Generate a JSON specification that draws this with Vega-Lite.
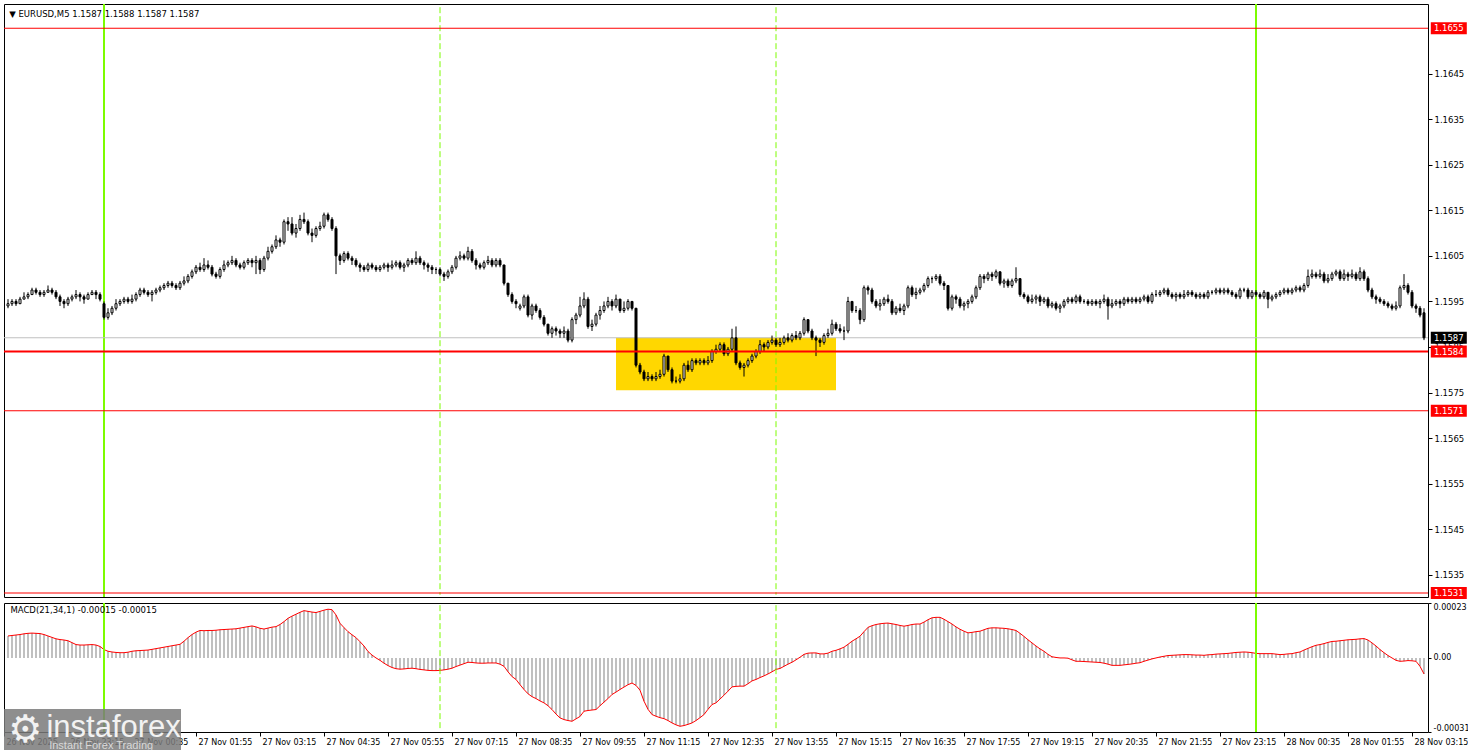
{
"$schema":"https://vega.github.io/schema/vega-lite/v6.json",
"padding":{"left":3,"top":3,"right":0,"bottom":0},
"background":"#ffffff",
"spacing":2,
"config":{"view":{"stroke":"#000000","strokeWidth":1},"font":"DejaVu Sans","axis":{"title":null,"grid":false,"domain":false,"labelFont":"DejaVu Sans","labelFontSize":8,"labelColor":"#000000","tickColor":"#000000","tickSize":4,"labelPadding":2}},
"datasets":{
"vs":[{"i":24},{"i":312}],
"vd":[{"i":108},{"i":192}],
"rl":[{"p":1.1655},{"p":1.1584},{"p":1.1571},{"p":1.1531}],
"k":[
{"i":0,"o":1.1594,"h":1.15955,"l":1.15935,"c":1.15945,"d":0.000092},
{"i":1,"o":1.15945,"h":1.15955,"l":1.1594,"c":1.1595,"d":0.000094},
{"i":2,"o":1.1595,"h":1.15955,"l":1.1594,"c":1.15945,"d":0.000096},
{"i":3,"o":1.15945,"h":1.1596,"l":1.15945,"c":1.15955,"d":0.000098},
{"i":4,"o":1.15955,"h":1.1597,"l":1.15955,"c":1.1596,"d":0.000101},
{"i":5,"o":1.1596,"h":1.1597,"l":1.15955,"c":1.15965,"d":0.000103},
{"i":6,"o":1.15965,"h":1.1598,"l":1.15965,"c":1.15975,"d":0.000104},
{"i":7,"o":1.15975,"h":1.1598,"l":1.15965,"c":1.1597,"d":0.000103},
{"i":8,"o":1.1597,"h":1.15975,"l":1.1596,"c":1.15965,"d":0.000102},
{"i":9,"o":1.15965,"h":1.15975,"l":1.1596,"c":1.1597,"d":0.000098},
{"i":10,"o":1.1597,"h":1.15985,"l":1.1597,"c":1.15975,"d":0.000092},
{"i":11,"o":1.15975,"h":1.1598,"l":1.15965,"c":1.1597,"d":0.000086},
{"i":12,"o":1.1597,"h":1.15975,"l":1.15955,"c":1.1596,"d":0.00008},
{"i":13,"o":1.1596,"h":1.15965,"l":1.1594,"c":1.1595,"d":0.000077},
{"i":14,"o":1.1595,"h":1.15955,"l":1.15935,"c":1.15945,"d":0.000075},
{"i":15,"o":1.15945,"h":1.1596,"l":1.1594,"c":1.15955,"d":0.000072},
{"i":16,"o":1.15955,"h":1.15965,"l":1.1595,"c":1.1596,"d":0.000064},
{"i":17,"o":1.1596,"h":1.15975,"l":1.15955,"c":1.15965,"d":0.000056},
{"i":18,"o":1.15965,"h":1.1597,"l":1.1595,"c":1.1596,"d":0.000054},
{"i":19,"o":1.1596,"h":1.15965,"l":1.15945,"c":1.15955,"d":0.000054},
{"i":20,"o":1.15955,"h":1.1597,"l":1.15955,"c":1.15965,"d":0.000055},
{"i":21,"o":1.15965,"h":1.15975,"l":1.15965,"c":1.1597,"d":0.000056},
{"i":22,"o":1.1597,"h":1.15975,"l":1.15955,"c":1.15965,"d":0.000054},
{"i":23,"o":1.15965,"h":1.1597,"l":1.1595,"c":1.15955,"d":0.000048},
{"i":24,"o":1.15945,"h":1.1595,"l":1.1591,"c":1.15915,"d":0.000035},
{"i":25,"o":1.15915,"h":1.15935,"l":1.1591,"c":1.15925,"d":0.000028},
{"i":26,"o":1.15925,"h":1.1594,"l":1.1592,"c":1.15935,"d":0.000025},
{"i":27,"o":1.15935,"h":1.15955,"l":1.1593,"c":1.15945,"d":0.000023},
{"i":28,"o":1.15945,"h":1.15955,"l":1.1594,"c":1.1595,"d":0.000022},
{"i":29,"o":1.1595,"h":1.1596,"l":1.15945,"c":1.15955,"d":0.000022},
{"i":30,"o":1.15955,"h":1.1596,"l":1.15945,"c":1.1595,"d":0.000024},
{"i":31,"o":1.1595,"h":1.15965,"l":1.15945,"c":1.15955,"d":0.000028},
{"i":32,"o":1.15955,"h":1.1597,"l":1.1595,"c":1.15965,"d":0.00003},
{"i":33,"o":1.15965,"h":1.1598,"l":1.1596,"c":1.15975,"d":0.000031},
{"i":34,"o":1.15975,"h":1.1598,"l":1.15965,"c":1.1597,"d":0.000032},
{"i":35,"o":1.1597,"h":1.15975,"l":1.1596,"c":1.15965,"d":0.000033},
{"i":36,"o":1.15965,"h":1.15975,"l":1.1595,"c":1.1597,"d":0.000036},
{"i":37,"o":1.1597,"h":1.1598,"l":1.15965,"c":1.15975,"d":0.000039},
{"i":38,"o":1.15975,"h":1.15985,"l":1.1597,"c":1.1598,"d":0.000042},
{"i":39,"o":1.1598,"h":1.1599,"l":1.15975,"c":1.15985,"d":0.000045},
{"i":40,"o":1.15985,"h":1.15995,"l":1.1598,"c":1.1599,"d":0.000048},
{"i":41,"o":1.1599,"h":1.15995,"l":1.1598,"c":1.15985,"d":0.000051},
{"i":42,"o":1.15985,"h":1.1599,"l":1.15975,"c":1.1598,"d":0.000054},
{"i":43,"o":1.1598,"h":1.15995,"l":1.15975,"c":1.1599,"d":0.000057},
{"i":44,"o":1.1599,"h":1.16005,"l":1.15985,"c":1.15995,"d":0.00007},
{"i":45,"o":1.15995,"h":1.1601,"l":1.1599,"c":1.16005,"d":0.000085},
{"i":46,"o":1.16005,"h":1.1602,"l":1.16,"c":1.16015,"d":0.000098},
{"i":47,"o":1.16015,"h":1.1603,"l":1.1601,"c":1.16025,"d":0.000108},
{"i":48,"o":1.16025,"h":1.16035,"l":1.16015,"c":1.1602,"d":0.000115},
{"i":49,"o":1.1602,"h":1.16045,"l":1.16015,"c":1.1603,"d":0.000114},
{"i":50,"o":1.1603,"h":1.1604,"l":1.1602,"c":1.16025,"d":0.000115},
{"i":51,"o":1.16025,"h":1.1603,"l":1.16005,"c":1.1601,"d":0.000115},
{"i":52,"o":1.1601,"h":1.16015,"l":1.16,"c":1.16005,"d":0.000116},
{"i":53,"o":1.16005,"h":1.16025,"l":1.16,"c":1.1602,"d":0.000118},
{"i":54,"o":1.1602,"h":1.1604,"l":1.16015,"c":1.1603,"d":0.000119},
{"i":55,"o":1.1603,"h":1.1604,"l":1.16025,"c":1.16035,"d":0.00012},
{"i":56,"o":1.16035,"h":1.1605,"l":1.1603,"c":1.1604,"d":0.000121},
{"i":57,"o":1.1604,"h":1.16045,"l":1.16025,"c":1.1603,"d":0.000122},
{"i":58,"o":1.1603,"h":1.16035,"l":1.1602,"c":1.16025,"d":0.000125},
{"i":59,"o":1.16025,"h":1.1604,"l":1.1602,"c":1.16035,"d":0.000128},
{"i":60,"o":1.16035,"h":1.16045,"l":1.1603,"c":1.1604,"d":0.000131},
{"i":61,"o":1.1604,"h":1.16045,"l":1.16025,"c":1.16035,"d":0.000134},
{"i":62,"o":1.16035,"h":1.1605,"l":1.1601,"c":1.1604,"d":0.00013},
{"i":63,"o":1.1604,"h":1.16045,"l":1.1601,"c":1.1602,"d":0.000124},
{"i":64,"o":1.1602,"h":1.1605,"l":1.16015,"c":1.16045,"d":0.000121},
{"i":65,"o":1.16045,"h":1.1607,"l":1.1604,"c":1.1606,"d":0.000125},
{"i":66,"o":1.1606,"h":1.16075,"l":1.16055,"c":1.1607,"d":0.000129},
{"i":67,"o":1.1607,"h":1.16095,"l":1.16065,"c":1.16085,"d":0.000131},
{"i":68,"o":1.16085,"h":1.1609,"l":1.1607,"c":1.1608,"d":0.00014},
{"i":69,"o":1.1608,"h":1.1613,"l":1.16075,"c":1.16125,"d":0.000152},
{"i":70,"o":1.16125,"h":1.16135,"l":1.16105,"c":1.1612,"d":0.000166},
{"i":71,"o":1.1612,"h":1.16135,"l":1.16095,"c":1.161,"d":0.000175},
{"i":72,"o":1.161,"h":1.1612,"l":1.1609,"c":1.1611,"d":0.000183},
{"i":73,"o":1.1611,"h":1.1614,"l":1.16105,"c":1.1613,"d":0.000191},
{"i":74,"o":1.1613,"h":1.16145,"l":1.1612,"c":1.16125,"d":0.000198},
{"i":75,"o":1.16125,"h":1.1613,"l":1.16095,"c":1.161,"d":0.000195},
{"i":76,"o":1.161,"h":1.1611,"l":1.1608,"c":1.16095,"d":0.000192},
{"i":77,"o":1.16095,"h":1.16115,"l":1.1609,"c":1.1611,"d":0.00019},
{"i":78,"o":1.1611,"h":1.16125,"l":1.16105,"c":1.16115,"d":0.000195},
{"i":79,"o":1.16115,"h":1.16145,"l":1.1611,"c":1.1614,"d":0.0002},
{"i":80,"o":1.1614,"h":1.16145,"l":1.16125,"c":1.1613,"d":0.000204},
{"i":81,"o":1.1613,"h":1.16135,"l":1.16105,"c":1.1611,"d":0.000202},
{"i":82,"o":1.1611,"h":1.16115,"l":1.1601,"c":1.1605,"d":0.00018},
{"i":83,"o":1.1605,"h":1.16055,"l":1.1603,"c":1.1604,"d":0.000145},
{"i":84,"o":1.1604,"h":1.1606,"l":1.16035,"c":1.16055,"d":0.000127},
{"i":85,"o":1.16055,"h":1.1606,"l":1.1604,"c":1.16045,"d":0.00011},
{"i":86,"o":1.16045,"h":1.1605,"l":1.1603,"c":1.1604,"d":0.000097},
{"i":87,"o":1.1604,"h":1.16045,"l":1.16025,"c":1.1603,"d":0.000085},
{"i":88,"o":1.1603,"h":1.16035,"l":1.16015,"c":1.16025,"d":0.000068},
{"i":89,"o":1.16025,"h":1.1603,"l":1.16015,"c":1.1602,"d":0.00005},
{"i":90,"o":1.1602,"h":1.16035,"l":1.16015,"c":1.1603,"d":0.000027},
{"i":91,"o":1.1603,"h":1.16035,"l":1.1602,"c":1.16025,"d":0.000012},
{"i":92,"o":1.16025,"h":1.1603,"l":1.16015,"c":1.1602,"d":0},
{"i":93,"o":1.1602,"h":1.1603,"l":1.16015,"c":1.16025,"d":-0.00001},
{"i":94,"o":1.16025,"h":1.16035,"l":1.1602,"c":1.1603,"d":-0.000022},
{"i":95,"o":1.1603,"h":1.16035,"l":1.16015,"c":1.16025,"d":-0.000032},
{"i":96,"o":1.16025,"h":1.1604,"l":1.1602,"c":1.1603,"d":-0.00004},
{"i":97,"o":1.1603,"h":1.1604,"l":1.16025,"c":1.16035,"d":-0.000045},
{"i":98,"o":1.16035,"h":1.1604,"l":1.1602,"c":1.16025,"d":-0.000047},
{"i":99,"o":1.16025,"h":1.16035,"l":1.16015,"c":1.1603,"d":-0.000046},
{"i":100,"o":1.1603,"h":1.16045,"l":1.16025,"c":1.1604,"d":-0.000044},
{"i":101,"o":1.1604,"h":1.16045,"l":1.1603,"c":1.16035,"d":-0.000043},
{"i":102,"o":1.16035,"h":1.1606,"l":1.1603,"c":1.16045,"d":-0.000045},
{"i":103,"o":1.16045,"h":1.1605,"l":1.1603,"c":1.16035,"d":-0.000048},
{"i":104,"o":1.16035,"h":1.1604,"l":1.1602,"c":1.1603,"d":-0.00005},
{"i":105,"o":1.1603,"h":1.16035,"l":1.16015,"c":1.16025,"d":-0.000052},
{"i":106,"o":1.16025,"h":1.1603,"l":1.1601,"c":1.1602,"d":-0.000053},
{"i":107,"o":1.1602,"h":1.16025,"l":1.1601,"c":1.1602,"d":-0.000053},
{"i":108,"o":1.1602,"h":1.16025,"l":1.16005,"c":1.1601,"d":-0.000052},
{"i":109,"o":1.1601,"h":1.16015,"l":1.15995,"c":1.16005,"d":-0.00005},
{"i":110,"o":1.16005,"h":1.1602,"l":1.16,"c":1.16015,"d":-0.000047},
{"i":111,"o":1.16015,"h":1.1603,"l":1.1601,"c":1.16025,"d":-0.000043},
{"i":112,"o":1.16025,"h":1.1605,"l":1.1602,"c":1.16045,"d":-0.000036},
{"i":113,"o":1.16045,"h":1.1606,"l":1.1604,"c":1.1605,"d":-0.00003},
{"i":114,"o":1.1605,"h":1.16055,"l":1.1604,"c":1.16045,"d":-0.000024},
{"i":115,"o":1.16045,"h":1.1607,"l":1.1604,"c":1.1606,"d":-0.000018},
{"i":116,"o":1.1606,"h":1.16065,"l":1.16035,"c":1.1604,"d":-0.000019},
{"i":117,"o":1.1604,"h":1.16045,"l":1.1602,"c":1.1603,"d":-0.000021},
{"i":118,"o":1.1603,"h":1.16035,"l":1.1602,"c":1.16025,"d":-0.000022},
{"i":119,"o":1.16025,"h":1.1604,"l":1.1602,"c":1.16035,"d":-0.000022},
{"i":120,"o":1.16035,"h":1.1605,"l":1.1603,"c":1.1604,"d":-0.000021},
{"i":121,"o":1.1604,"h":1.16045,"l":1.16025,"c":1.1603,"d":-0.000021},
{"i":122,"o":1.1603,"h":1.16045,"l":1.16025,"c":1.1604,"d":-0.000021},
{"i":123,"o":1.1604,"h":1.16045,"l":1.16025,"c":1.1603,"d":-0.000026},
{"i":124,"o":1.1603,"h":1.1603,"l":1.15985,"c":1.1599,"d":-0.000035},
{"i":125,"o":1.1599,"h":1.1599,"l":1.1596,"c":1.15965,"d":-0.000058},
{"i":126,"o":1.15965,"h":1.1597,"l":1.15945,"c":1.1595,"d":-0.000078},
{"i":127,"o":1.1595,"h":1.15955,"l":1.15935,"c":1.15945,"d":-0.00009},
{"i":128,"o":1.15935,"h":1.15945,"l":1.1593,"c":1.1594,"d":-0.000112},
{"i":129,"o":1.1594,"h":1.15965,"l":1.15935,"c":1.1596,"d":-0.000132},
{"i":130,"o":1.1596,"h":1.15965,"l":1.15915,"c":1.1592,"d":-0.00015},
{"i":131,"o":1.1592,"h":1.15945,"l":1.1591,"c":1.1594,"d":-0.000162},
{"i":132,"o":1.1594,"h":1.15945,"l":1.15925,"c":1.1593,"d":-0.00017},
{"i":133,"o":1.1593,"h":1.15935,"l":1.1591,"c":1.15915,"d":-0.00018},
{"i":134,"o":1.15915,"h":1.1592,"l":1.15895,"c":1.159,"d":-0.000188},
{"i":135,"o":1.159,"h":1.159,"l":1.15875,"c":1.1588,"d":-0.0002},
{"i":136,"o":1.1588,"h":1.15895,"l":1.1587,"c":1.1589,"d":-0.000216},
{"i":137,"o":1.1589,"h":1.15895,"l":1.15875,"c":1.15885,"d":-0.000235},
{"i":138,"o":1.15885,"h":1.1589,"l":1.1587,"c":1.1588,"d":-0.000251},
{"i":139,"o":1.1588,"h":1.15895,"l":1.1587,"c":1.15885,"d":-0.000258},
{"i":140,"o":1.15885,"h":1.1589,"l":1.1586,"c":1.15865,"d":-0.000262},
{"i":141,"o":1.15865,"h":1.15915,"l":1.1586,"c":1.1591,"d":-0.000265},
{"i":142,"o":1.1591,"h":1.15925,"l":1.159,"c":1.1592,"d":-0.000255},
{"i":143,"o":1.1592,"h":1.1596,"l":1.15915,"c":1.1594,"d":-0.000245},
{"i":144,"o":1.1594,"h":1.1597,"l":1.15935,"c":1.15955,"d":-0.000223},
{"i":145,"o":1.15955,"h":1.1596,"l":1.1589,"c":1.15895,"d":-0.00022},
{"i":146,"o":1.15895,"h":1.1591,"l":1.15885,"c":1.159,"d":-0.000218},
{"i":147,"o":1.159,"h":1.15925,"l":1.15895,"c":1.1592,"d":-0.000216},
{"i":148,"o":1.1592,"h":1.1594,"l":1.1591,"c":1.1593,"d":-0.0002},
{"i":149,"o":1.1593,"h":1.1595,"l":1.15925,"c":1.1594,"d":-0.000185},
{"i":150,"o":1.1594,"h":1.1596,"l":1.15935,"c":1.1595,"d":-0.00017},
{"i":151,"o":1.1595,"h":1.15955,"l":1.1593,"c":1.1594,"d":-0.000153},
{"i":152,"o":1.1594,"h":1.15965,"l":1.15935,"c":1.15955,"d":-0.000143},
{"i":153,"o":1.15955,"h":1.15955,"l":1.15925,"c":1.1593,"d":-0.000132},
{"i":154,"o":1.1593,"h":1.1595,"l":1.15925,"c":1.15935,"d":-0.000122},
{"i":155,"o":1.15935,"h":1.15955,"l":1.1593,"c":1.1595,"d":-0.000112},
{"i":156,"o":1.1595,"h":1.1595,"l":1.1593,"c":1.15935,"d":-0.000105},
{"i":157,"o":1.15935,"h":1.15935,"l":1.15805,"c":1.1581,"d":-0.000115},
{"i":158,"o":1.1581,"h":1.15815,"l":1.1579,"c":1.15795,"d":-0.000135},
{"i":159,"o":1.15795,"h":1.158,"l":1.15775,"c":1.1578,"d":-0.000181},
{"i":160,"o":1.1578,"h":1.15795,"l":1.15775,"c":1.15785,"d":-0.000215},
{"i":161,"o":1.15785,"h":1.1579,"l":1.15775,"c":1.1578,"d":-0.000237},
{"i":162,"o":1.1578,"h":1.15795,"l":1.15775,"c":1.15785,"d":-0.000244},
{"i":163,"o":1.15785,"h":1.158,"l":1.1578,"c":1.1579,"d":-0.00025},
{"i":164,"o":1.1579,"h":1.15835,"l":1.15785,"c":1.1583,"d":-0.000254},
{"i":165,"o":1.1583,"h":1.1583,"l":1.15795,"c":1.158,"d":-0.000262},
{"i":166,"o":1.158,"h":1.15805,"l":1.1577,"c":1.15775,"d":-0.000272},
{"i":167,"o":1.15775,"h":1.15785,"l":1.1577,"c":1.15775,"d":-0.00028},
{"i":168,"o":1.15775,"h":1.1579,"l":1.1577,"c":1.1578,"d":-0.000286},
{"i":169,"o":1.1578,"h":1.15815,"l":1.15775,"c":1.1581,"d":-0.000283},
{"i":170,"o":1.1581,"h":1.1582,"l":1.15795,"c":1.158,"d":-0.000278},
{"i":171,"o":1.158,"h":1.15825,"l":1.15795,"c":1.1582,"d":-0.000272},
{"i":172,"o":1.1582,"h":1.15825,"l":1.1581,"c":1.15815,"d":-0.000262},
{"i":173,"o":1.15815,"h":1.15825,"l":1.1581,"c":1.1582,"d":-0.00025},
{"i":174,"o":1.1582,"h":1.15825,"l":1.1581,"c":1.15815,"d":-0.000237},
{"i":175,"o":1.15815,"h":1.1583,"l":1.1581,"c":1.1582,"d":-0.000215},
{"i":176,"o":1.1582,"h":1.15845,"l":1.15815,"c":1.1584,"d":-0.000195},
{"i":177,"o":1.1584,"h":1.15855,"l":1.15835,"c":1.15845,"d":-0.000188},
{"i":178,"o":1.15845,"h":1.1586,"l":1.1584,"c":1.15855,"d":-0.000172},
{"i":179,"o":1.15855,"h":1.1586,"l":1.1583,"c":1.15835,"d":-0.000156},
{"i":180,"o":1.15835,"h":1.1585,"l":1.1583,"c":1.15845,"d":-0.000139},
{"i":181,"o":1.15845,"h":1.1589,"l":1.1584,"c":1.1587,"d":-0.000121},
{"i":182,"o":1.1587,"h":1.15895,"l":1.1581,"c":1.15815,"d":-0.000119},
{"i":183,"o":1.15815,"h":1.1582,"l":1.158,"c":1.15805,"d":-0.000118},
{"i":184,"o":1.15805,"h":1.15815,"l":1.15785,"c":1.1581,"d":-0.000118},
{"i":185,"o":1.1581,"h":1.15825,"l":1.15805,"c":1.1582,"d":-0.000108},
{"i":186,"o":1.1582,"h":1.15835,"l":1.15815,"c":1.1583,"d":-0.000096},
{"i":187,"o":1.1583,"h":1.15845,"l":1.15825,"c":1.1584,"d":-0.00009},
{"i":188,"o":1.1584,"h":1.15865,"l":1.15835,"c":1.15855,"d":-0.000082},
{"i":189,"o":1.15855,"h":1.1586,"l":1.1584,"c":1.1585,"d":-0.000075},
{"i":190,"o":1.1585,"h":1.15865,"l":1.15845,"c":1.1586,"d":-0.000067},
{"i":191,"o":1.1586,"h":1.15875,"l":1.15855,"c":1.15865,"d":-0.000058},
{"i":192,"o":1.15865,"h":1.1587,"l":1.1585,"c":1.15855,"d":-0.000048},
{"i":193,"o":1.15855,"h":1.1587,"l":1.1585,"c":1.1586,"d":-0.000044},
{"i":194,"o":1.1586,"h":1.15875,"l":1.15855,"c":1.1587,"d":-0.000035},
{"i":195,"o":1.1587,"h":1.1588,"l":1.1586,"c":1.15865,"d":-0.000026},
{"i":196,"o":1.15865,"h":1.1588,"l":1.1586,"c":1.15875,"d":-0.000018},
{"i":197,"o":1.15875,"h":1.15885,"l":1.15865,"c":1.1587,"d":-0.000008},
{"i":198,"o":1.1587,"h":1.15885,"l":1.15865,"c":1.1588,"d":0.000003},
{"i":199,"o":1.1588,"h":1.15915,"l":1.15875,"c":1.1591,"d":0.000015},
{"i":200,"o":1.1591,"h":1.1591,"l":1.1588,"c":1.15885,"d":0.00002},
{"i":201,"o":1.15885,"h":1.1589,"l":1.15865,"c":1.1587,"d":0.000021},
{"i":202,"o":1.1587,"h":1.15875,"l":1.1583,"c":1.15865,"d":0.000021},
{"i":203,"o":1.15865,"h":1.1587,"l":1.1585,"c":1.1586,"d":0.000017},
{"i":204,"o":1.1586,"h":1.1588,"l":1.15855,"c":1.15875,"d":0.000017},
{"i":205,"o":1.15875,"h":1.1589,"l":1.1587,"c":1.1588,"d":0.00002},
{"i":206,"o":1.1588,"h":1.1591,"l":1.15875,"c":1.159,"d":0.000028},
{"i":207,"o":1.159,"h":1.15905,"l":1.15885,"c":1.1589,"d":0.000032},
{"i":208,"o":1.1589,"h":1.159,"l":1.1588,"c":1.15885,"d":0.000038},
{"i":209,"o":1.15885,"h":1.15895,"l":1.15865,"c":1.15885,"d":0.000045},
{"i":210,"o":1.15885,"h":1.1596,"l":1.1588,"c":1.1595,"d":0.000057},
{"i":211,"o":1.1595,"h":1.1595,"l":1.15925,"c":1.1593,"d":0.00007},
{"i":212,"o":1.1593,"h":1.1594,"l":1.15925,"c":1.1593,"d":0.00008},
{"i":213,"o":1.1593,"h":1.15935,"l":1.159,"c":1.1591,"d":0.000091},
{"i":214,"o":1.1591,"h":1.15985,"l":1.15905,"c":1.1598,"d":0.00011},
{"i":215,"o":1.1598,"h":1.15985,"l":1.15965,"c":1.15975,"d":0.000128},
{"i":216,"o":1.15975,"h":1.1598,"l":1.15945,"c":1.1595,"d":0.000135},
{"i":217,"o":1.1595,"h":1.15955,"l":1.15935,"c":1.1594,"d":0.00014},
{"i":218,"o":1.1594,"h":1.15955,"l":1.1593,"c":1.15945,"d":0.000143},
{"i":219,"o":1.15945,"h":1.1596,"l":1.1594,"c":1.15955,"d":0.000145},
{"i":220,"o":1.15955,"h":1.15965,"l":1.15945,"c":1.1595,"d":0.000146},
{"i":221,"o":1.1595,"h":1.15955,"l":1.1592,"c":1.15925,"d":0.000143},
{"i":222,"o":1.15925,"h":1.1594,"l":1.1592,"c":1.15935,"d":0.00014},
{"i":223,"o":1.15935,"h":1.15945,"l":1.15925,"c":1.1593,"d":0.000136},
{"i":224,"o":1.1593,"h":1.15945,"l":1.1592,"c":1.1594,"d":0.000133},
{"i":225,"o":1.1594,"h":1.15985,"l":1.15935,"c":1.1598,"d":0.000136},
{"i":226,"o":1.1598,"h":1.15985,"l":1.1596,"c":1.15965,"d":0.00014},
{"i":227,"o":1.15965,"h":1.1598,"l":1.15955,"c":1.1597,"d":0.000142},
{"i":228,"o":1.1597,"h":1.1598,"l":1.15965,"c":1.15975,"d":0.000142},
{"i":229,"o":1.15975,"h":1.1599,"l":1.1597,"c":1.15985,"d":0.00015},
{"i":230,"o":1.15985,"h":1.16005,"l":1.1598,"c":1.16,"d":0.00016},
{"i":231,"o":1.16,"h":1.16005,"l":1.1599,"c":1.16,"d":0.000168},
{"i":232,"o":1.16,"h":1.1601,"l":1.15995,"c":1.16005,"d":0.00017},
{"i":233,"o":1.16005,"h":1.1601,"l":1.15985,"c":1.1599,"d":0.00017},
{"i":234,"o":1.1599,"h":1.15995,"l":1.15975,"c":1.15985,"d":0.000162},
{"i":235,"o":1.15985,"h":1.15985,"l":1.1593,"c":1.15935,"d":0.000152},
{"i":236,"o":1.15935,"h":1.15965,"l":1.1593,"c":1.1596,"d":0.000142},
{"i":237,"o":1.1596,"h":1.15965,"l":1.15945,"c":1.15955,"d":0.00013},
{"i":238,"o":1.15955,"h":1.1596,"l":1.15935,"c":1.1594,"d":0.00012},
{"i":239,"o":1.1594,"h":1.1595,"l":1.1593,"c":1.15945,"d":0.000112},
{"i":240,"o":1.15945,"h":1.15955,"l":1.15935,"c":1.1595,"d":0.000105},
{"i":241,"o":1.1595,"h":1.15965,"l":1.15945,"c":1.1596,"d":0.000107},
{"i":242,"o":1.1596,"h":1.15985,"l":1.15955,"c":1.1598,"d":0.00011},
{"i":243,"o":1.1598,"h":1.1601,"l":1.15975,"c":1.16005,"d":0.000112},
{"i":244,"o":1.16005,"h":1.1601,"l":1.1599,"c":1.16,"d":0.000118},
{"i":245,"o":1.16,"h":1.16015,"l":1.15995,"c":1.1601,"d":0.000124},
{"i":246,"o":1.1601,"h":1.16015,"l":1.15995,"c":1.16005,"d":0.000126},
{"i":247,"o":1.16005,"h":1.1602,"l":1.16,"c":1.16015,"d":0.000126},
{"i":248,"o":1.16015,"h":1.16015,"l":1.15985,"c":1.1599,"d":0.000125},
{"i":249,"o":1.1599,"h":1.16,"l":1.1598,"c":1.15995,"d":0.000124},
{"i":250,"o":1.15995,"h":1.16,"l":1.1598,"c":1.15985,"d":0.000122},
{"i":251,"o":1.15985,"h":1.16,"l":1.1598,"c":1.15995,"d":0.000119},
{"i":252,"o":1.15995,"h":1.16025,"l":1.1599,"c":1.16,"d":0.000115},
{"i":253,"o":1.16,"h":1.16,"l":1.1596,"c":1.15965,"d":0.000103},
{"i":254,"o":1.15965,"h":1.1597,"l":1.15955,"c":1.1596,"d":0.00009},
{"i":255,"o":1.1596,"h":1.15965,"l":1.15945,"c":1.1595,"d":0.000076},
{"i":256,"o":1.1595,"h":1.15965,"l":1.15945,"c":1.15955,"d":0.000063},
{"i":257,"o":1.15955,"h":1.15965,"l":1.15945,"c":1.1596,"d":0.00005},
{"i":258,"o":1.1596,"h":1.15965,"l":1.1594,"c":1.1595,"d":0.000038},
{"i":259,"o":1.1595,"h":1.1596,"l":1.15945,"c":1.15955,"d":0.000028},
{"i":260,"o":1.15955,"h":1.1596,"l":1.15935,"c":1.1594,"d":0.000015},
{"i":261,"o":1.1594,"h":1.1595,"l":1.15935,"c":1.15945,"d":0.000005},
{"i":262,"o":1.15945,"h":1.1595,"l":1.1593,"c":1.15935,"d":0.000002},
{"i":263,"o":1.15935,"h":1.15945,"l":1.15925,"c":1.1594,"d":0},
{"i":264,"o":1.1594,"h":1.15955,"l":1.15935,"c":1.1595,"d":0},
{"i":265,"o":1.1595,"h":1.1596,"l":1.15945,"c":1.15955,"d":-0.000001},
{"i":266,"o":1.15955,"h":1.1596,"l":1.15945,"c":1.1595,"d":-0.000008},
{"i":267,"o":1.1595,"h":1.15965,"l":1.15945,"c":1.1596,"d":-0.000014},
{"i":268,"o":1.1596,"h":1.15965,"l":1.15945,"c":1.1595,"d":-0.000014},
{"i":269,"o":1.1595,"h":1.15955,"l":1.15945,"c":1.1595,"d":-0.000015},
{"i":270,"o":1.1595,"h":1.15955,"l":1.1594,"c":1.15945,"d":-0.000016},
{"i":271,"o":1.15945,"h":1.15955,"l":1.1594,"c":1.1595,"d":-0.000017},
{"i":272,"o":1.1595,"h":1.15955,"l":1.1594,"c":1.15945,"d":-0.000018},
{"i":273,"o":1.15945,"h":1.15955,"l":1.15935,"c":1.1595,"d":-0.000019},
{"i":274,"o":1.1595,"h":1.15965,"l":1.15945,"c":1.15955,"d":-0.000022},
{"i":275,"o":1.15955,"h":1.1596,"l":1.1591,"c":1.1594,"d":-0.000026},
{"i":276,"o":1.1594,"h":1.15955,"l":1.15935,"c":1.15945,"d":-0.000031},
{"i":277,"o":1.15945,"h":1.15955,"l":1.1594,"c":1.1595,"d":-0.000031},
{"i":278,"o":1.1595,"h":1.15955,"l":1.15935,"c":1.15945,"d":-0.000031},
{"i":279,"o":1.15945,"h":1.1596,"l":1.1594,"c":1.15955,"d":-0.000029},
{"i":280,"o":1.15955,"h":1.1596,"l":1.15945,"c":1.1595,"d":-0.000027},
{"i":281,"o":1.1595,"h":1.1596,"l":1.15945,"c":1.15955,"d":-0.000025},
{"i":282,"o":1.15955,"h":1.1596,"l":1.15945,"c":1.1595,"d":-0.000022},
{"i":283,"o":1.1595,"h":1.1596,"l":1.15945,"c":1.15955,"d":-0.00002},
{"i":284,"o":1.15955,"h":1.15965,"l":1.1595,"c":1.1596,"d":-0.000014},
{"i":285,"o":1.1596,"h":1.15965,"l":1.15945,"c":1.1595,"d":-0.000009},
{"i":286,"o":1.1595,"h":1.1597,"l":1.15945,"c":1.15965,"d":-0.000004},
{"i":287,"o":1.15965,"h":1.15975,"l":1.1596,"c":1.15965,"d":0},
{"i":288,"o":1.15965,"h":1.15975,"l":1.1596,"c":1.1597,"d":0.000004},
{"i":289,"o":1.1597,"h":1.1598,"l":1.15965,"c":1.15975,"d":0.000007},
{"i":290,"o":1.15975,"h":1.1598,"l":1.1596,"c":1.15965,"d":0.00001},
{"i":291,"o":1.15965,"h":1.1597,"l":1.15955,"c":1.1596,"d":0.000011},
{"i":292,"o":1.1596,"h":1.1597,"l":1.1595,"c":1.15965,"d":0.000012},
{"i":293,"o":1.15965,"h":1.1597,"l":1.15955,"c":1.1596,"d":0.000013},
{"i":294,"o":1.1596,"h":1.15975,"l":1.15955,"c":1.15965,"d":0.000014},
{"i":295,"o":1.15965,"h":1.15975,"l":1.1596,"c":1.1597,"d":0.000014},
{"i":296,"o":1.1597,"h":1.15975,"l":1.1596,"c":1.15965,"d":0.000013},
{"i":297,"o":1.15965,"h":1.1597,"l":1.15955,"c":1.1596,"d":0.000012},
{"i":298,"o":1.1596,"h":1.1597,"l":1.15955,"c":1.15965,"d":0.000012},
{"i":299,"o":1.15965,"h":1.1597,"l":1.15955,"c":1.1596,"d":0.000011},
{"i":300,"o":1.1596,"h":1.15975,"l":1.15955,"c":1.1597,"d":0.000013},
{"i":301,"o":1.1597,"h":1.15975,"l":1.15965,"c":1.1597,"d":0.000014},
{"i":302,"o":1.1597,"h":1.1598,"l":1.15965,"c":1.15975,"d":0.000016},
{"i":303,"o":1.15975,"h":1.1598,"l":1.15965,"c":1.1597,"d":0.000017},
{"i":304,"o":1.1597,"h":1.1598,"l":1.15965,"c":1.15975,"d":0.000018},
{"i":305,"o":1.15975,"h":1.1598,"l":1.15965,"c":1.1597,"d":0.000019},
{"i":306,"o":1.1597,"h":1.15975,"l":1.1596,"c":1.15965,"d":0.000021},
{"i":307,"o":1.15965,"h":1.1597,"l":1.15955,"c":1.1596,"d":0.000023},
{"i":308,"o":1.1596,"h":1.1598,"l":1.15955,"c":1.15975,"d":0.000024},
{"i":309,"o":1.15975,"h":1.1598,"l":1.1597,"c":1.15975,"d":0.000025},
{"i":310,"o":1.15975,"h":1.1598,"l":1.15955,"c":1.1596,"d":0.000024},
{"i":311,"o":1.1596,"h":1.15975,"l":1.15955,"c":1.1597,"d":0.000022},
{"i":312,"o":1.1597,"h":1.15975,"l":1.1596,"c":1.15965,"d":0.000019},
{"i":313,"o":1.15965,"h":1.1597,"l":1.15955,"c":1.1596,"d":0.000018},
{"i":314,"o":1.1596,"h":1.15975,"l":1.15955,"c":1.1597,"d":0.000018},
{"i":315,"o":1.1597,"h":1.1597,"l":1.15935,"c":1.15955,"d":0.000018},
{"i":316,"o":1.15955,"h":1.15965,"l":1.1595,"c":1.1596,"d":0.000018},
{"i":317,"o":1.1596,"h":1.1597,"l":1.15955,"c":1.15965,"d":0.000016},
{"i":318,"o":1.15965,"h":1.15975,"l":1.1596,"c":1.1597,"d":0.000014},
{"i":319,"o":1.1597,"h":1.1598,"l":1.15965,"c":1.15975,"d":0.000015},
{"i":320,"o":1.15975,"h":1.1598,"l":1.15965,"c":1.1597,"d":0.000017},
{"i":321,"o":1.1597,"h":1.1598,"l":1.15965,"c":1.15975,"d":0.000018},
{"i":322,"o":1.15975,"h":1.15985,"l":1.1597,"c":1.1598,"d":0.000022},
{"i":323,"o":1.1598,"h":1.15985,"l":1.1597,"c":1.15975,"d":0.000025},
{"i":324,"o":1.15975,"h":1.1599,"l":1.1597,"c":1.15985,"d":0.000033},
{"i":325,"o":1.15985,"h":1.1602,"l":1.1598,"c":1.16005,"d":0.00004},
{"i":326,"o":1.16005,"h":1.1602,"l":1.16,"c":1.1601,"d":0.000047},
{"i":327,"o":1.1601,"h":1.16015,"l":1.16,"c":1.16005,"d":0.000053},
{"i":328,"o":1.16005,"h":1.1602,"l":1.16,"c":1.1601,"d":0.000056},
{"i":329,"o":1.1601,"h":1.16015,"l":1.1599,"c":1.15995,"d":0.00006},
{"i":330,"o":1.15995,"h":1.1601,"l":1.1599,"c":1.16,"d":0.000065},
{"i":331,"o":1.16,"h":1.16015,"l":1.15995,"c":1.1601,"d":0.000069},
{"i":332,"o":1.1601,"h":1.1602,"l":1.16005,"c":1.16015,"d":0.00007},
{"i":333,"o":1.16015,"h":1.1602,"l":1.15995,"c":1.16,"d":0.000072},
{"i":334,"o":1.16,"h":1.1602,"l":1.15995,"c":1.1601,"d":0.000074},
{"i":335,"o":1.1601,"h":1.16015,"l":1.15995,"c":1.16005,"d":0.000076},
{"i":336,"o":1.16005,"h":1.1602,"l":1.16,"c":1.1601,"d":0.000077},
{"i":337,"o":1.1601,"h":1.16015,"l":1.15995,"c":1.16,"d":0.000078},
{"i":338,"o":1.16,"h":1.16025,"l":1.15995,"c":1.16015,"d":0.00008},
{"i":339,"o":1.16015,"h":1.1602,"l":1.15995,"c":1.16,"d":0.000081},
{"i":340,"o":1.16,"h":1.16005,"l":1.1597,"c":1.15975,"d":0.000075},
{"i":341,"o":1.15975,"h":1.1598,"l":1.15955,"c":1.1596,"d":0.000063},
{"i":342,"o":1.1596,"h":1.15965,"l":1.15945,"c":1.15955,"d":0.00005},
{"i":343,"o":1.15955,"h":1.1596,"l":1.15945,"c":1.1595,"d":0.000035},
{"i":344,"o":1.1595,"h":1.15955,"l":1.1594,"c":1.15945,"d":0.000022},
{"i":345,"o":1.15945,"h":1.1595,"l":1.15935,"c":1.1594,"d":0.00001},
{"i":346,"o":1.1594,"h":1.15945,"l":1.1593,"c":1.15935,"d":0},
{"i":347,"o":1.15935,"h":1.1595,"l":1.1593,"c":1.1594,"d":-0.00001},
{"i":348,"o":1.1594,"h":1.15985,"l":1.15935,"c":1.1598,"d":-0.000014},
{"i":349,"o":1.1598,"h":1.1601,"l":1.15975,"c":1.15985,"d":-0.000013},
{"i":350,"o":1.15985,"h":1.1599,"l":1.15965,"c":1.1597,"d":-0.000011},
{"i":351,"o":1.1597,"h":1.15975,"l":1.15935,"c":1.1594,"d":-0.000012},
{"i":352,"o":1.1594,"h":1.15945,"l":1.15925,"c":1.15935,"d":-0.000014},
{"i":353,"o":1.15935,"h":1.1594,"l":1.15915,"c":1.1592,"d":-0.000035},
{"i":354,"o":1.15925,"h":1.15935,"l":1.15865,"c":1.1587,"d":-0.000067}
]},
"vconcat":[
{
"width":1424,"height":593,
"layer":[
{"data":{"values":[{}]},"mark":{"type":"rect","color":"#ffd700"},
 "encoding":{"x":{"datum":152,"type":"quantitative","scale":{"domain":[-1,355],"nice":false,"zero":false,"padding":0},"axis":null},"x2":{"datum":207},
  "y":{"datum":1.1587,"type":"quantitative","scale":{"domain":[1.15301,1.16603],"nice":false,"zero":false,"padding":0},
   "axis":{"orient":"right","values":[1.1535,1.1545,1.1555,1.1565,1.1575,1.1585,1.1595,1.1605,1.1615,1.1625,1.1635,1.1645],"format":".4f","labelFontSize":8.5,"title":null}},
  "y2":{"datum":1.15755}}},
{"data":{"name":"vs"},"mark":{"type":"bar","width":2,"color":"#7cfc00"},"encoding":{"x":{"field":"i","type":"quantitative","axis":null},"y":{"datum":1.16603,"type":"quantitative"},"y2":{"datum":1.15301}}},
{"data":{"name":"vd"},"mark":{"type":"rule","color":"#7cfc00","strokeWidth":1,"strokeDash":[6,3]},"encoding":{"x":{"field":"i","type":"quantitative","axis":null},"y":{"datum":1.16596,"type":"quantitative"},"y2":{"datum":1.15306}}},
{"data":{"values":[{}]},"mark":{"type":"bar","height":1,"color":"#c0c0c0"},"encoding":{"x":{"datum":-1,"type":"quantitative","axis":null},"x2":{"datum":355},"y":{"datum":1.1587,"type":"quantitative"}}},
{"data":{"name":"k"},"mark":{"type":"rule","color":"#000000","strokeWidth":1},"encoding":{"x":{"field":"i","type":"quantitative","axis":null},"y":{"field":"l","type":"quantitative"},"y2":{"field":"h"}}},
{"data":{"name":"k"},"mark":{"type":"bar","width":2,"stroke":"#000000","strokeWidth":1},"encoding":{"x":{"field":"i","type":"quantitative","axis":null},"y":{"field":"o","type":"quantitative"},"y2":{"field":"c"},"fill":{"condition":{"test":"datum.c < datum.o","value":"#000000"},"value":"#ffffff"}}},
{"data":{"values":[{"p":1.1655},{"p":1.1571},{"p":1.1531}]},"mark":{"type":"bar","height":1,"color":"#ff0000"},"encoding":{"x":{"datum":-1,"type":"quantitative","axis":null},"x2":{"datum":355},"y":{"field":"p","type":"quantitative"}}},
{"data":{"values":[{}]},"mark":{"type":"bar","height":2,"color":"#ff0000"},"encoding":{"x":{"datum":-1,"type":"quantitative","axis":null},"x2":{"datum":355},"y":{"datum":1.1584,"type":"quantitative"}}},
{"data":{"values":[{}]},"mark":{"type":"text","align":"left","baseline":"middle","fontSize":8.5,"color":"#000000","font":"DejaVu Sans"},"encoding":{"x":{"datum":0.3,"type":"quantitative","axis":null},"y":{"datum":1.16582,"type":"quantitative"},"text":{"value":"▼  EURUSD,M5  1.1587 1.1588 1.1587 1.1587"}}},
{"data":{"name":"rl"},"mark":{"type":"bar","height":12,"color":"#ff0000"},"encoding":{"x":{"datum":355.7,"type":"quantitative","axis":null},"x2":{"datum":364.7},"y":{"field":"p","type":"quantitative"}}},
{"data":{"values":[{}]},"mark":{"type":"bar","height":12,"color":"#000000"},"encoding":{"x":{"datum":355.7,"type":"quantitative","axis":null},"x2":{"datum":364.7},"y":{"datum":1.1587,"type":"quantitative"}}},
{"data":{"name":"rl"},"mark":{"type":"text","align":"center","baseline":"middle","fontSize":8.5,"color":"#ffffff"},"encoding":{"x":{"datum":360.2,"type":"quantitative","axis":null},"y":{"field":"p","type":"quantitative"},"text":{"field":"p","type":"quantitative","format":".4f"}}},
{"data":{"values":[{}]},"mark":{"type":"text","align":"center","baseline":"middle","fontSize":8.5,"color":"#ffffff"},"encoding":{"x":{"datum":360.2,"type":"quantitative","axis":null},"y":{"datum":1.1587,"type":"quantitative"},"text":{"value":"1.1587"}}}
]
},
{
"width":1424,"height":129,
"layer":[
{"data":{"name":"k"},"mark":{"type":"bar","width":2,"color":"#c0c0c0"},
 "encoding":{"x":{"field":"i","type":"quantitative","scale":{"domain":[-1,355],"nice":false,"zero":false,"padding":0},
   "axis":{"values":[-1,15,31,47,63,79,95,111,127,143,159,175,191,207,223,239,255,271,287,303,319,335,351],"labelAlign":"left","labelOffset":2,"labelBound":false,"labelOverlap":false,"labelFlush":false,"title":null,
   "labelExpr":"datum.value == -1 ? '26 Nov 2025' : timeFormat(time(datetime(2025,10,26,22,0)) + datum.value*300000, '%d %b %H:%M')"}},
  "y":{"field":"d","type":"quantitative","scale":{"domain":[-0.00031,0.00023],"nice":false,"zero":false,"padding":0},
   "axis":{"orient":"right","values":[0.00023,0,-0.00031],"labelFlush":true,"tickSize":3,"labelPadding":2,"title":null,
   "labelExpr":"datum.value > 0.0001 ? '0.00023' : (datum.value < -0.0001 ? '-0.00031' : '0.00')"}},
  "y2":{"datum":0}}},
{"data":{"name":"k"},"mark":{"type":"line","color":"#ff0000","strokeWidth":1},"encoding":{"x":{"field":"i","type":"quantitative"},"y":{"field":"d","type":"quantitative"}}},
{"data":{"name":"vs"},"mark":{"type":"bar","width":2,"color":"#7cfc00"},"encoding":{"x":{"field":"i","type":"quantitative"},"y":{"datum":0.00023,"type":"quantitative"},"y2":{"datum":-0.00031}}},
{"data":{"name":"vd"},"mark":{"type":"rule","color":"#7cfc00","strokeWidth":1,"strokeDash":[6,3]},"encoding":{"x":{"field":"i","type":"quantitative"},"y":{"datum":0.000221,"type":"quantitative"},"y2":{"datum":-0.000301}}},
{"data":{"values":[{}]},"mark":{"type":"text","align":"left","baseline":"middle","fontSize":8.5,"color":"#000000"},"encoding":{"x":{"datum":0.6,"type":"quantitative"},"y":{"datum":0.000201,"type":"quantitative"},"text":{"value":"MACD(21,34,1) -0.00015 -0.00015"}}},
{"data":{"values":[{}]},"mark":{"type":"rect","color":"#7a7a7a","opacity":0.85},"encoding":{"x":{"datum":-1,"type":"quantitative"},"x2":{"datum":43.25},"y":{"datum":-0.000214,"type":"quantitative"},"y2":{"datum":-0.000398}}},
{"data":{"values":[{}]},"mark":{"type":"text","align":"center","baseline":"middle","fontSize":38,"color":"#f2f2f2","font":"DejaVu Sans"},"encoding":{"x":{"datum":4.3,"type":"quantitative"},"y":{"datum":-0.000305,"type":"quantitative"},"text":{"value":"⚙"}}},
{"data":{"values":[{}]},"mark":{"type":"text","align":"left","baseline":"alphabetic","fontSize":31,"color":"#f2f2f2","font":"Liberation Sans"},"encoding":{"x":{"datum":9.6,"type":"quantitative"},"y":{"datum":-0.000333,"type":"quantitative"},"text":{"value":"instaforex"}}},
{"data":{"values":[{}]},"mark":{"type":"text","align":"left","baseline":"alphabetic","fontSize":11,"color":"#d9d9d9","font":"Liberation Sans"},"encoding":{"x":{"datum":10.3,"type":"quantitative"},"y":{"datum":-0.000383,"type":"quantitative"},"text":{"value":"Instant Forex Trading"}}}
]
}
]
}
